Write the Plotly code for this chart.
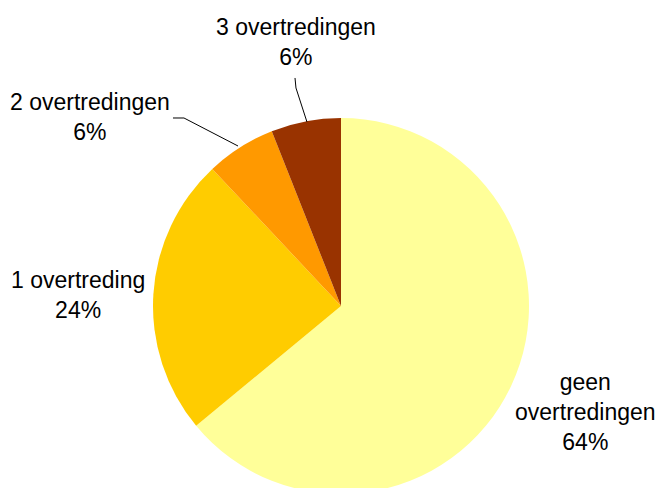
import plotly.graph_objects as go

# Data
labels = ["geen<br>overtredingen", "1 overtreding", "2 overtredingen", "3 overtredingen"]
values = [64, 24, 6, 6]
colors = ["#FFFF99", "#FFCC00", "#FF9900", "#993300"]

W, H = 647, 488
OFF = 8  # page body margin shifts the figure by 8px


def px(x, y):
    # screen pixel -> paper coords
    return (x - OFF) / W, 1 - (y - OFF) / H


cx, cy, r = 341, 306, 188
x0, y1 = px(cx - r, cy - r)
x1, y0 = px(cx + r, cy + r)

fig = go.Figure(go.Pie(
    labels=labels,
    values=values,
    sort=False,
    direction="clockwise",
    rotation=0,
    marker=dict(colors=colors, line=dict(width=0)),
    textinfo="none",
    hoverinfo="label+percent",
    domain=dict(x=[x0, x1], y=[max(y0, 0), y1]),
    showlegend=False,
))

# label positions (screen pixel centres)
label_pos = [(585, 412), (78, 295), (90, 117), (296, 42)]
total = sum(values)
for lab, val, (lx, ly) in zip(labels, values, label_pos):
    x, y = px(lx, ly)
    fig.add_annotation(
        x=x, y=y, xref="paper", yref="paper",
        text=f"{lab}<br>{round(val / total * 100)}%",
        showarrow=False, xanchor="center", yanchor="middle",
        font=dict(size=23, color="black", family="Liberation Sans, Arial"),
    )

# leader lines
leaders = [
    [(173, 118), (184, 118), (238, 146)],
    [(295, 78), (296, 88), (307, 122)],
]
for pts in leaders:
    path = "M " + " L ".join(f"{px(a, b)[0]:.4f},{px(a, b)[1]:.4f}" for a, b in pts)
    fig.add_shape(type="path", path=path, xref="paper", yref="paper",
                  line=dict(color="black", width=1))

fig.update_layout(
    width=W, height=H,
    margin=dict(l=0, r=0, t=0, b=0),
    paper_bgcolor="white",
    plot_bgcolor="white",
    font_family="Liberation Sans, Arial",
)

fig.write_html("out.html")
